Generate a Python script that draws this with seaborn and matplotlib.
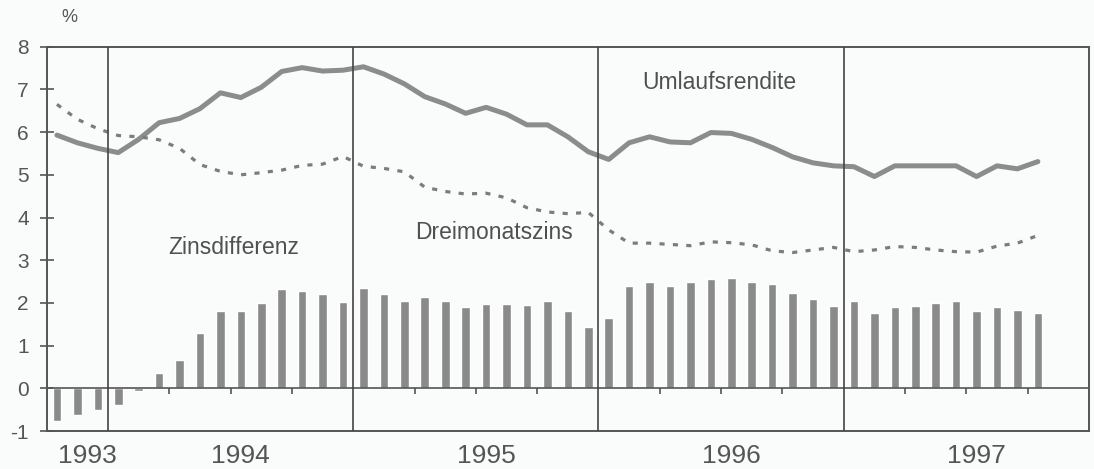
import matplotlib.pyplot as plt
import numpy as np
import pandas as pd
import seaborn as sns

# monthly values, Oct 1993 .. Oct 1997
months = pd.period_range("1993-10", "1997-10", freq="M")

umlaufsrendite = [
	5.93, 5.75, 5.62,
	5.52, 5.83, 6.22, 6.32, 6.55, 6.92, 6.81, 7.05, 7.42, 7.51, 7.43, 7.45,
	7.53, 7.36, 7.13, 6.83, 6.66, 6.44, 6.58, 6.42, 6.17, 6.17, 5.89, 5.54,
	5.36, 5.75, 5.89, 5.77, 5.75, 5.99, 5.97, 5.83, 5.64, 5.42, 5.28, 5.21,
	5.19, 4.96, 5.21, 5.21, 5.21, 5.21, 4.96, 5.21, 5.14, 5.31,
]
dreimonatszins = [
	6.65, 6.30, 6.08,
	5.92, 5.89, 5.82, 5.62, 5.24, 5.08, 5.00, 5.05, 5.11, 5.22, 5.25, 5.43,
	5.20, 5.15, 5.07, 4.71, 4.61, 4.55, 4.57, 4.46, 4.23, 4.13, 4.09, 4.12,
	3.71, 3.40, 3.40, 3.37, 3.34, 3.43, 3.41, 3.36, 3.22, 3.18, 3.24, 3.30,
	3.20, 3.24, 3.32, 3.30, 3.24, 3.20, 3.19, 3.33, 3.40, 3.58,
]
zinsdifferenz = [
	-0.76, -0.63, -0.51,
	-0.39, -0.06, 0.35, 0.66, 1.30, 1.82, 1.82, 2.00, 2.32, 2.27, 2.20, 2.01,
	2.34, 2.21, 2.05, 2.13, 2.04, 1.90, 1.97, 1.97, 1.94, 2.05, 1.81, 1.44,
	1.65, 2.40, 2.48, 2.40, 2.48, 2.56, 2.58, 2.50, 2.44, 2.24, 2.08, 1.93,
	2.04, 1.76, 1.90, 1.92, 1.99, 2.04, 1.81, 1.90, 1.84, 1.76,
]

year_labels = ["1993", "1994", "1995", "1996", "1997"]
y_ticks = list(range(-1, 9))

df = pd.DataFrame({
	"idx": np.arange(len(months)),
	"month": months,
	"Umlaufsrendite": umlaufsrendite,
	"Dreimonatszins": dreimonatszins,
	"Zinsdifferenz": zinsdifferenz,
})

sns.set_style("white")
plt.rcParams["font.family"] = ["Liberation Sans", "DejaVu Sans"]

fig = plt.figure(figsize=(10.94, 4.69), dpi=100)
fig.patch.set_facecolor("#fafcfc")
ax = fig.add_axes([0.0427, 0.081, 0.9527, 0.8194])
ax.set_facecolor("#fafcfc")

x_min, x_max = -0.5, len(months) + 1.5

# bars for the spread
sns.barplot(data=df, x="idx", y="Zinsdifferenz", color="#8a8a8a", saturation=1,
	width=0.42, ax=ax, zorder=2)

# yield lines
sns.lineplot(data=df, x="idx", y="Umlaufsrendite", color="#8c8c8c", linewidth=3.6,
	ax=ax, zorder=4)
sns.lineplot(data=df, x="idx", y="Dreimonatszins", color="#7c7c7c", linewidth=2.3,
	linestyle=(0, (1.6, 2.6)), ax=ax, zorder=4)

# zero line with quarterly ticks, year separators
ax.axhline(0, color="#555555", linewidth=1.2, zorder=3)
jan_idx = df.loc[df["month"].dt.month == 1, "idx"].to_numpy()
quarter_idx = df.loc[df["month"].dt.month.isin([4, 7, 10]), "idx"].to_numpy()
for b in jan_idx - 0.5:
	ax.axvline(b, color="#444444", linewidth=1.2, zorder=5)
ax.vlines(quarter_idx - 0.5, -0.14, 0, color="#555555", linewidth=1.2, zorder=3)

# year labels centred on each (visible) year
year_starts = np.concatenate([[x_min], jan_idx - 0.5])
year_ends = np.concatenate([jan_idx - 0.5, [x_max]])
year_pos = (year_starts + year_ends) / 2 + 0.5
ax.set_xticks(year_pos)
ax.set_xticklabels(year_labels, fontsize=19, color="#555555")
ax.tick_params(axis="x", length=0, pad=9)

ax.set_yticks(y_ticks)
ax.set_yticklabels([str(t) for t in y_ticks], fontsize=15, color="#555555")
ax.tick_params(axis="y", direction="inout", length=10, width=1.2, color="#555555",
	pad=8, left=True)

ax.set_xlim(x_min, x_max)
ax.set_ylim(-1, 8)
ax.set_xlabel("")
ax.set_ylabel("")

for side in ["left", "right", "top", "bottom"]:
	ax.spines[side].set_visible(True)
	ax.spines[side].set_color("#555555")
	ax.spines[side].set_linewidth(1.4)

# series labels
label_style = dict(fontsize=16.5, color="#505050", ha="center", va="center", zorder=6)
ax.text(32.4, 7.17, "Umlaufsrendite", **label_style)
ax.text(21.4, 3.64, "Dreimonatszins", **label_style)
ax.text(8.66, 3.29, "Zinsdifferenz", **label_style)
ax.text(0.022, 1.075, "%", transform=ax.transAxes, fontsize=13, color="#555555",
	ha="center", va="center")

fig.savefig("out.png", dpi=100, facecolor=fig.get_facecolor())
plt.close(fig)
